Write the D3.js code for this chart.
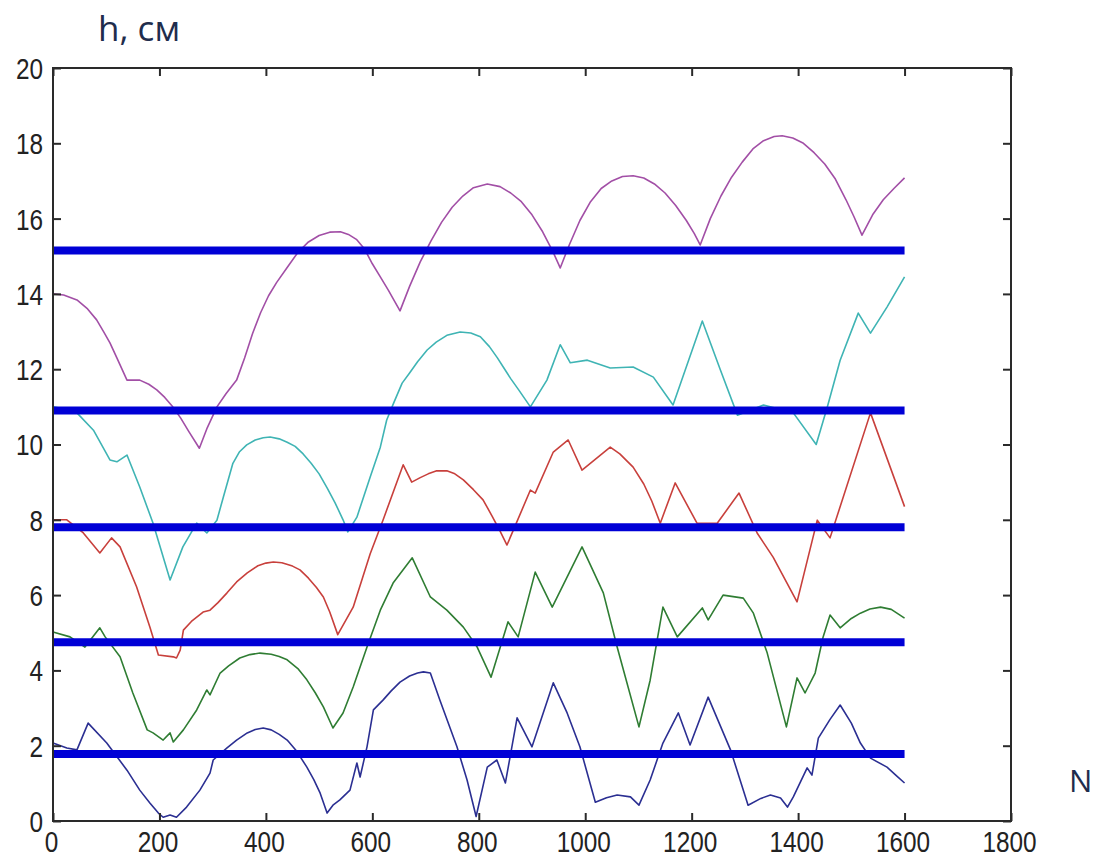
<!DOCTYPE html>
<html>
<head>
<meta charset="utf-8">
<script src="https://cdn.jsdelivr.net/npm/d3@7"></script>
<style>
  html, body { margin: 0; padding: 0; background: #fff; }
  svg { display: block; }
</style>
</head>
<body>
<svg id="chart" width="1107" height="859"></svg>
<script>
// Water level h (cm) against step number N, five runs with their threshold levels
const xTicks = [0, 200, 400, 600, 800, 1000, 1200, 1400, 1600, 1800];
const yTicks = [0, 2, 4, 6, 8, 10, 12, 14, 16, 18, 20];

// Threshold levels (thick blue lines spanning N = 0..1600)
const levels = [15.15, 10.9, 7.8, 4.75, 1.78];
const levelSpan = [0, 1600];

// Series as [N, h] pairs
const purple = [
  [0,14.0],[20,13.97],[45,13.84],[65,13.6],[82,13.31],[95,13.0],[107,12.7],[120,12.3],
  [139,11.71],[163,11.71],[180,11.6],[195,11.45],[210,11.25],[225,11.0],[240,10.7],[255,10.35],
  [275,9.9],[290,10.45],[308,11.0],[325,11.35],[345,11.71],[360,12.3],[375,12.95],[390,13.5],
  [405,13.95],[420,14.3],[440,14.7],[460,15.1],[480,15.38],[500,15.55],[520,15.64],[540,15.65],
  [555,15.58],[570,15.45],[585,15.2],[600,14.8],[615,14.45],[630,14.1],[652,13.55],
  [670,14.2],[690,14.85],[710,15.4],[730,15.9],[750,16.3],[770,16.6],[790,16.82],[816,16.92],
  [840,16.85],[860,16.68],[880,16.45],[900,16.1],[920,15.65],[940,15.1],[953,14.69],
  [970,15.3],[990,15.95],[1010,16.45],[1030,16.8],[1050,17.0],[1070,17.12],[1090,17.14],
  [1110,17.08],[1130,16.92],[1150,16.68],[1170,16.35],[1190,15.95],[1205,15.6],[1216,15.3],
  [1235,16.0],[1255,16.6],[1275,17.1],[1295,17.5],[1315,17.85],[1335,18.07],[1355,18.18],
  [1370,18.2],[1390,18.14],[1410,18.0],[1430,17.75],[1450,17.45],[1470,17.05],[1490,16.5],
  [1505,16.05],[1520,15.56],[1540,16.1],[1560,16.5],[1580,16.8],[1600,17.08]
];
const cyan = [
  [0,11.0],[20,10.95],[45,10.84],[76,10.38],[107,9.59],[120,9.54],[139,9.72],[163,8.87],
  [188,7.91],[220,6.4],[244,7.28],[270,7.91],[289,7.65],[308,7.99],[320,8.6],[338,9.5],
  [350,9.8],[364,9.99],[380,10.12],[395,10.18],[408,10.2],[425,10.15],[440,10.06],[455,9.95],
  [470,9.75],[485,9.5],[500,9.22],[515,8.85],[530,8.45],[545,8.0],[554,7.68],[571,8.07],
  [596,9.14],[615,9.93],[627,10.65],[640,11.1],[656,11.63],[670,11.9],[685,12.2],[703,12.51],
  [720,12.72],[740,12.9],[765,12.99],[785,12.96],[803,12.86],[820,12.6],[835,12.3],[846,12.06],
  [860,11.75],[875,11.45],[897,11.0],[928,11.71],[953,12.65],[972,12.17],[1004,12.24],
  [1047,12.03],[1090,12.06],[1128,11.79],[1165,11.05],[1220,13.28],[1254,11.98],[1286,10.78],
  [1335,11.05],[1391,10.84],[1434,10.0],[1455,11.0],[1479,12.24],[1513,13.49],[1536,12.96],
  [1567,13.65],[1600,14.45]
];
const red = [
  [0,8.0],[26,8.0],[57,7.65],[88,7.12],[110,7.52],[126,7.28],[157,6.22],[182,5.15],[198,4.41],
  [226,4.36],[232,4.33],[239,4.54],[245,5.07],[260,5.3],[282,5.55],[295,5.6],[310,5.8],
  [327,6.06],[345,6.35],[365,6.59],[385,6.78],[400,6.85],[414,6.88],[430,6.86],[450,6.77],
  [464,6.67],[480,6.45],[495,6.2],[508,5.95],[520,5.55],[535,4.95],[564,5.68],[596,7.1],
  [620,7.99],[658,9.46],[674,9.0],[690,9.12],[705,9.22],[721,9.3],[740,9.3],[755,9.22],
  [771,9.06],[790,8.8],[808,8.53],[825,8.1],[840,7.7],[853,7.33],[897,8.79],[906,8.71],
  [940,9.8],[968,10.12],[994,9.32],[1047,9.93],[1065,9.75],[1090,9.4],[1110,8.95],[1125,8.5],
  [1141,7.91],[1169,8.98],[1210,7.91],[1248,7.91],[1289,8.71],[1323,7.65],[1353,7.01],
  [1398,5.82],[1436,7.99],[1460,7.52],[1536,10.84],[1600,8.35]
];
const green = [
  [0,5.02],[32,4.89],[60,4.62],[88,5.13],[98,4.89],[126,4.36],[150,3.4],[177,2.42],[188,2.34],
  [207,2.15],[220,2.34],[226,2.1],[245,2.42],[270,2.95],[289,3.48],[295,3.35],[314,3.93],
  [330,4.12],[351,4.33],[370,4.42],[389,4.46],[410,4.43],[425,4.37],[440,4.28],[460,4.05],
  [477,3.75],[493,3.4],[508,3.03],[526,2.47],[545,2.87],[564,3.56],[590,4.62],[615,5.6],
  [639,6.32],[675,6.99],[709,5.95],[740,5.6],[771,5.15],[797,4.62],[823,3.82],[855,5.29],
  [874,4.89],[906,6.61],[938,5.68],[994,7.28],[1034,6.06],[1060,4.62],[1101,2.5],[1122,3.74],
  [1146,5.68],[1173,4.89],[1220,5.66],[1231,5.34],[1259,6.0],[1297,5.92],[1316,5.52],
  [1342,4.46],[1378,2.5],[1398,3.8],[1413,3.4],[1432,3.93],[1447,4.89],[1460,5.47],[1479,5.13],
  [1500,5.38],[1517,5.52],[1535,5.63],[1555,5.68],[1575,5.62],[1600,5.39]
];
const navy = [
  [0,2.07],[26,1.94],[45,1.89],[66,2.6],[101,2.07],[139,1.35],[163,0.82],[182,0.48],[198,0.21],
  [207,0.1],[220,0.16],[232,0.1],[251,0.37],[276,0.82],[295,1.27],[301,1.62],[327,1.94],
  [345,2.15],[365,2.34],[380,2.43],[395,2.47],[410,2.42],[425,2.3],[440,2.15],[458,1.85],
  [477,1.43],[490,1.1],[502,0.74],[515,0.21],[526,0.42],[539,0.56],[558,0.82],[571,1.54],
  [577,1.17],[590,1.97],[602,2.95],[620,3.21],[635,3.45],[652,3.69],[670,3.85],[685,3.93],
  [696,3.96],[709,3.93],[727,3.21],[759,1.97],[778,1.09],[795,0.12],[816,1.43],[834,1.62],
  [850,1.01],[872,2.74],[900,1.97],[940,3.67],[966,2.87],[990,1.97],[1019,0.5],[1040,0.62],
  [1060,0.69],[1085,0.64],[1101,0.42],[1122,1.09],[1146,2.07],[1175,2.87],[1197,2.02],
  [1231,3.29],[1273,1.89],[1306,0.42],[1330,0.6],[1348,0.69],[1367,0.61],[1380,0.37],
  [1391,0.64],[1417,1.41],[1426,1.22],[1438,2.2],[1460,2.7],[1479,3.08],[1500,2.6],[1517,2.07],
  [1536,1.67],[1567,1.43],[1585,1.2],[1600,1.01]
];

const seriesList = [
  { data: purple, color: "#a24fa6" },
  { data: cyan,   color: "#3fb4b4" },
  { data: red,    color: "#c8403c" },
  { data: green,  color: "#2f7d33" },
  { data: navy,   color: "#2b2f92" }
];

const svg = d3.select("#chart");
const plotLeft = 53, plotRight = 1011, plotTop = 68, plotBottom = 821;

const x = d3.scaleLinear().domain([0, 1800]).range([plotLeft, plotRight]);
const y = d3.scaleLinear().domain([0, 20]).range([plotBottom, plotTop]);

// Data lines
const line = d3.line().x(d => x(d[0])).y(d => y(d[1]));
const plot = svg.append("g");
seriesList.forEach(s => {
  plot.append("path")
    .datum(s.data)
    .attr("fill", "none")
    .attr("stroke", s.color)
    .attr("stroke-width", 1.6)
    .attr("stroke-linejoin", "round")
    .attr("d", line);
});

// Threshold levels
plot.selectAll("line.level")
  .data(levels)
  .join("line")
  .attr("class", "level")
  .attr("x1", x(levelSpan[0]))
  .attr("x2", x(levelSpan[1]))
  .attr("y1", d => y(d))
  .attr("y2", d => y(d))
  .attr("stroke", "#0000d6")
  .attr("stroke-width", 8);

// Axes: inward ticks on all four sides, box frame
const axisColor = "#2a2a2a";
const tickLen = 8;
const fontFamily = "'Liberation Sans', Arial, sans-serif";
const fmt = d3.format("d");

const gx = svg.append("g").attr("transform", `translate(0,${plotBottom})`)
  .call(d3.axisBottom(x).tickValues(xTicks).tickFormat(fmt).tickSizeInner(-tickLen).tickSizeOuter(0));
const gxt = svg.append("g").attr("transform", `translate(0,${plotTop})`)
  .call(d3.axisTop(x).tickValues(xTicks).tickSizeInner(-tickLen).tickSizeOuter(0).tickFormat(""));
const gy = svg.append("g").attr("transform", `translate(${plotLeft},0)`)
  .call(d3.axisLeft(y).tickValues(yTicks).tickFormat(fmt).tickSizeInner(-tickLen).tickSizeOuter(0));
const gyr = svg.append("g").attr("transform", `translate(${plotRight},0)`)
  .call(d3.axisRight(y).tickValues(yTicks).tickSizeInner(-tickLen).tickSizeOuter(0).tickFormat(""));

[gx, gxt, gy, gyr].forEach(g => {
  g.select(".domain").remove();
  g.selectAll(".tick line").attr("stroke", axisColor).attr("stroke-width", 2);
});

gx.selectAll(".tick text")
  .attr("font-family", fontFamily)
  .attr("font-size", 29)
  .attr("fill", "#222")
  .attr("y", 0)
  .attr("dy", 0)
  .attr("transform", "translate(-2,31) scale(0.84,1)");

gy.selectAll(".tick text")
  .attr("font-family", fontFamily)
  .attr("font-size", 29)
  .attr("fill", "#222")
  .attr("x", 0)
  .attr("dy", "0.36em")
  .attr("transform", "translate(-10,0) scale(0.84,1)");

// Frame
svg.append("rect")
  .attr("x", plotLeft).attr("y", plotTop)
  .attr("width", plotRight - plotLeft).attr("height", plotBottom - plotTop)
  .attr("fill", "none")
  .attr("stroke", axisColor)
  .attr("stroke-width", 2);

// Axis titles
svg.append("text")
  .attr("x", 98).attr("y", 41)
  .attr("font-family", "'Open Sans', 'Noto Sans', sans-serif")
  .attr("font-size", 35)
  .attr("fill", "#1f2d4d")
  .text("h, см");

svg.append("text")
  .attr("x", 1069).attr("y", 792)
  .attr("font-family", "'Open Sans', 'Noto Sans', sans-serif")
  .attr("font-size", 31)
  .attr("fill", "#1f2d4d")
  .text("N");
</script>
</body>
</html>
